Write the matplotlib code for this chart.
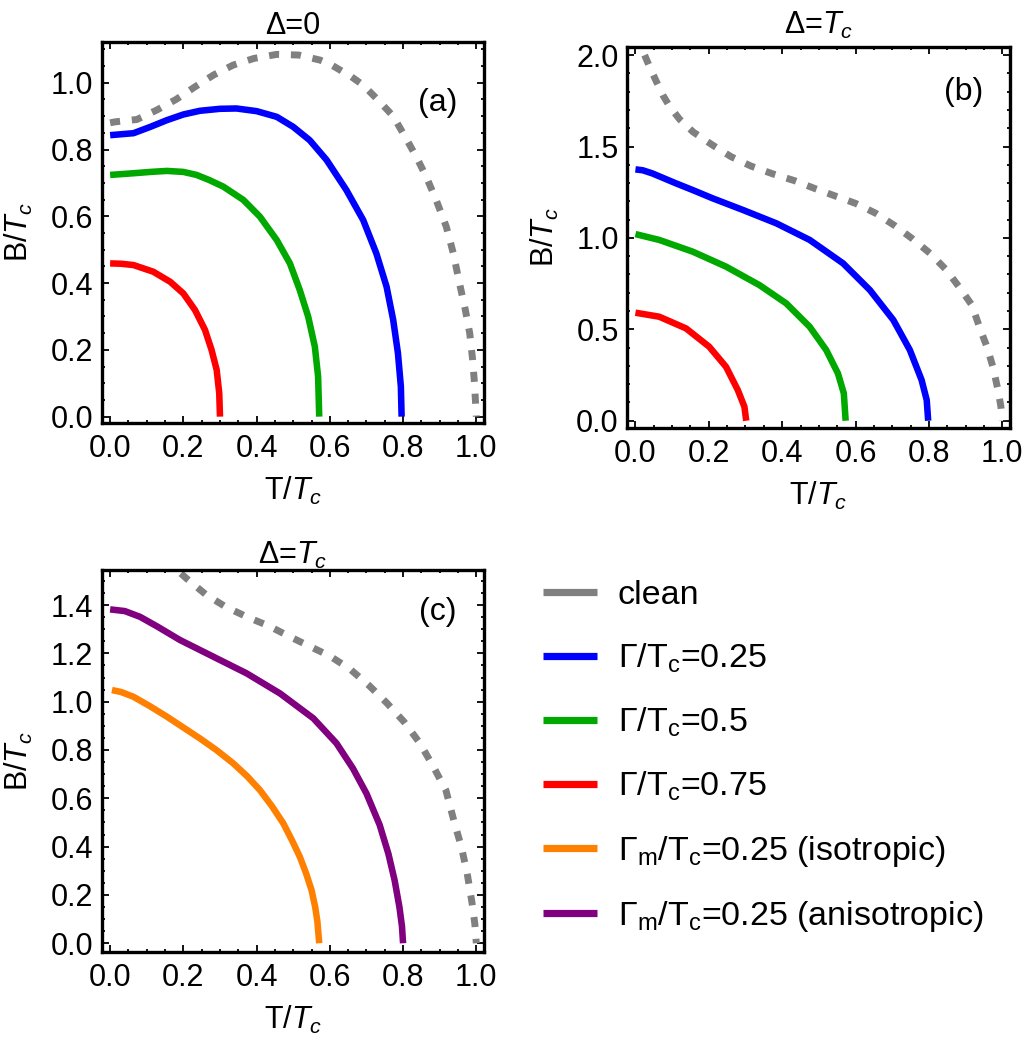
import matplotlib
matplotlib.use("Agg")
import matplotlib.pyplot as plt
from matplotlib.lines import Line2D
from matplotlib.ticker import MultipleLocator, FormatStrFormatter

plt.rcParams['font.family'] = ['Liberation Sans', 'DejaVu Sans']
plt.rcParams['mathtext.fontset'] = 'custom'
plt.rcParams['mathtext.rm'] = 'Liberation Sans'
plt.rcParams['mathtext.it'] = 'Liberation Sans:italic'
plt.rcParams['mathtext.bf'] = 'Liberation Sans:bold'

# ---------------- data ----------------
# Panel (a): Delta = 0
a_clean_T = [0, 0.014, 0.073, 0.127, 0.18, 0.232, 0.282, 0.336, 0.393, 0.455, 0.515, 0.573, 0.605,
             0.659, 0.691, 0.732, 0.773, 0.81, 0.84, 0.863, 0.89, 0.918, 0.937, 0.954, 0.97, 0.982,
             0.99, 0.995, 1.0]
a_clean_B = [0.88, 0.883, 0.89, 0.918, 0.95, 0.988, 1.023, 1.053, 1.073, 1.085, 1.083, 1.068, 1.053,
             1.018, 0.993, 0.948, 0.9, 0.83, 0.77, 0.719, 0.65, 0.569, 0.49, 0.40, 0.32, 0.25,
             0.17, 0.10, 0.0]
a_g025_T = [0, 0.064, 0.11, 0.155, 0.2, 0.245, 0.3, 0.345, 0.40, 0.455, 0.50, 0.545, 0.591, 0.645,
            0.691, 0.727, 0.755, 0.773, 0.786, 0.794, 0.796]
a_g025_B = [0.843, 0.849, 0.868, 0.888, 0.905, 0.916, 0.922, 0.923, 0.915, 0.898, 0.868, 0.828, 0.769,
            0.679, 0.589, 0.489, 0.389, 0.29, 0.19, 0.09, 0.0]
a_g05_T = [0, 0.064, 0.11, 0.155, 0.2, 0.236, 0.27, 0.309, 0.364, 0.409, 0.455, 0.491, 0.518, 0.541,
           0.559, 0.568, 0.571]
a_g05_B = [0.724, 0.729, 0.733, 0.736, 0.733, 0.724, 0.709, 0.689, 0.649, 0.599, 0.529, 0.459, 0.379,
           0.299, 0.21, 0.12, 0.0]
a_g075_T = [0, 0.03, 0.064, 0.118, 0.164, 0.2, 0.232, 0.259, 0.277, 0.291, 0.298, 0.3]
a_g075_B = [0.459, 0.458, 0.454, 0.434, 0.404, 0.369, 0.319, 0.26, 0.2, 0.14, 0.07, 0.0]

# Delta = Tc clean curve (panels b and c)
d_clean_T = [0.025, 0.04, 0.056, 0.075, 0.093, 0.12, 0.157, 0.21, 0.261, 0.315, 0.375, 0.434, 0.488,
             0.545, 0.6, 0.655, 0.707, 0.756, 0.803, 0.846, 0.882, 0.917, 0.94, 0.959, 0.975, 0.988,
             0.996, 1.0]
d_clean_B = [2.0, 1.93, 1.86, 1.78, 1.72, 1.65, 1.58, 1.508, 1.444, 1.393, 1.35, 1.313, 1.271,
             1.229, 1.189, 1.135, 1.067, 0.994, 0.916, 0.828, 0.733, 0.633, 0.50, 0.40, 0.29, 0.17,
             0.08, 0.0]

# Panel (b)
b_g025_T = [0, 0.02, 0.046, 0.11, 0.156, 0.21, 0.293, 0.384, 0.475, 0.566, 0.639, 0.703, 0.748,
            0.78, 0.794, 0.798]
b_g025_B = [1.375, 1.37, 1.353, 1.299, 1.262, 1.217, 1.153, 1.08, 0.989, 0.861, 0.715, 0.551, 0.387,
            0.223, 0.113, 0.0]
b_g05_T = [0, 0.065, 0.156, 0.247, 0.338, 0.411, 0.475, 0.52, 0.552, 0.568, 0.573]
b_g05_B = [1.021, 0.989, 0.925, 0.843, 0.742, 0.642, 0.514, 0.387, 0.259, 0.15, 0.0]
b_g075_T = [0, 0.065, 0.138, 0.201, 0.247, 0.279, 0.297, 0.302]
b_g075_B = [0.591, 0.569, 0.505, 0.405, 0.295, 0.168, 0.077, 0.0]

# Panel (c)
c_iso_T = [0.005, 0.03, 0.064, 0.11, 0.155, 0.2, 0.245, 0.29, 0.336, 0.375, 0.409, 0.443, 0.473,
           0.497, 0.518, 0.535, 0.55, 0.56, 0.566, 0.571]
c_iso_B = [1.048, 1.04, 1.02, 0.98, 0.938, 0.893, 0.848, 0.80, 0.745, 0.69, 0.634, 0.565, 0.496,
           0.425, 0.358, 0.29, 0.22, 0.15, 0.09, 0.0]
c_aniso_T = [0, 0.04, 0.082, 0.13, 0.191, 0.282, 0.373, 0.464, 0.555, 0.618, 0.663, 0.7, 0.736,
             0.76, 0.777, 0.79, 0.797, 0.8]
c_aniso_B = [1.382, 1.375, 1.351, 1.31, 1.255, 1.186, 1.117, 1.034, 0.931, 0.828, 0.724, 0.62, 0.49,
             0.37, 0.26, 0.15, 0.07, 0.0]

legend_labels = ['clean', r'Γ/$\mathrm{T_c}$=0.25', r'Γ/$\mathrm{T_c}$=0.5', r'Γ/$\mathrm{T_c}$=0.75',
                 r'Γ$_\mathrm{m}$/$\mathrm{T_c}$=0.25 (isotropic)',
                 r'Γ$_\mathrm{m}$/$\mathrm{T_c}$=0.25 (anisotropic)']

# ---------------- style ----------------
GRAY = '#808080'
BLUE = '#0000FF'
GREEN = '#00A800'
RED = '#FF0000'
ORANGE = '#FF8000'
PURPLE = '#800080'
LW = 4.7
DASH = (0, (1.45, 1.7))

fig = plt.figure(figsize=(10.25, 10.44), dpi=100)
W, H = 1025, 1044


def make_ax(l, r, t, b):
    return fig.add_axes([l / W, 1 - b / H, (r - l) / W, (b - t) / H])


axA = make_ax(101.7, 484, 41.7, 423)
axB = make_ax(627, 1010, 46.7, 427.7)
axC = make_ax(101.7, 484, 570, 951.7)


def style(ax, ylim, ymaj, ymin, title, title_xy, lab, labpos):
    ax.set_xlim(-0.023, 1.021)
    ax.set_ylim(*ylim)
    ax.xaxis.set_major_locator(MultipleLocator(0.2))
    ax.xaxis.set_minor_locator(MultipleLocator(0.05))
    ax.yaxis.set_major_locator(MultipleLocator(ymaj))
    ax.yaxis.set_minor_locator(MultipleLocator(ymin))
    ax.xaxis.set_major_formatter(FormatStrFormatter('%.1f'))
    ax.yaxis.set_major_formatter(FormatStrFormatter('%.1f'))
    ax.tick_params(which='both', direction='in', top=True, right=True, width=1.3, labelsize=22)
    ax.tick_params(which='major', length=5)
    ax.tick_params(which='minor', length=2.5)
    ax.tick_params(axis='x', pad=8)
    ax.tick_params(axis='y', pad=6)
    for s in ax.spines.values():
        s.set_linewidth(2.4)
    ax.set_xlabel(r'T/$T_c$', fontsize=22, labelpad=8)
    ax.set_ylabel(r'B/$T_c$', fontsize=22, labelpad=11)
    fig.text(title_xy[0] / W, 1 - title_xy[1] / H, title, fontsize=22, ha='center', va='baseline')
    ax.text(labpos[0], labpos[1], lab, transform=ax.transAxes, fontsize=23, ha='center', va='center')


def line(ax, T, B, color, dashed=False):
    if dashed:
        ax.plot(T, B, color=color, lw=5.0, linestyle=DASH, dash_capstyle='butt')
    else:
        ax.plot(T, B, color=color, lw=LW, solid_capstyle='butt', solid_joinstyle='round')


# (a)
line(axA, a_clean_T, a_clean_B, GRAY, dashed=True)
line(axA, a_g025_T, a_g025_B, BLUE)
line(axA, a_g05_T, a_g05_B, GREEN)
line(axA, a_g075_T, a_g075_B, RED)
style(axA, (-0.019, 1.123), 0.2, 0.05, 'Δ=0', (292.8, 33.5), '(a)', (0.88, 0.839))

# (b)
line(axB, d_clean_T, d_clean_B, GRAY, dashed=True)
line(axB, b_g025_T, b_g025_B, BLUE)
line(axB, b_g05_T, b_g05_B, GREEN)
line(axB, b_g075_T, b_g075_B, RED)
style(axB, (-0.038, 2.046), 0.5, 0.1, r'Δ=$T_c$', (818.5, 33.5), '(b)', (0.879, 0.882))

# (c)
line(axC, d_clean_T, d_clean_B, GRAY, dashed=True)
line(axC, c_iso_T, c_iso_B, ORANGE)
line(axC, c_aniso_T, c_aniso_B, PURPLE)
style(axC, (-0.035, 1.545), 0.2, 0.05, r'Δ=$T_c$', (292.8, 563.5), '(c)', (0.88, 0.891))

handles = [Line2D([], [], color=c, lw=5.2, solid_capstyle='butt')
           for c in [GRAY, BLUE, GREEN, RED, ORANGE, PURPLE]]
fig.legend(handles, legend_labels, loc='upper left', bbox_to_anchor=(543 / W, 1 - 580 / H),
           frameon=False, fontsize=24.5, handlelength=1.6, handletextpad=0.6,
           labelspacing=0.9, borderpad=0, borderaxespad=0)

fig.savefig('out.png', dpi=100)
